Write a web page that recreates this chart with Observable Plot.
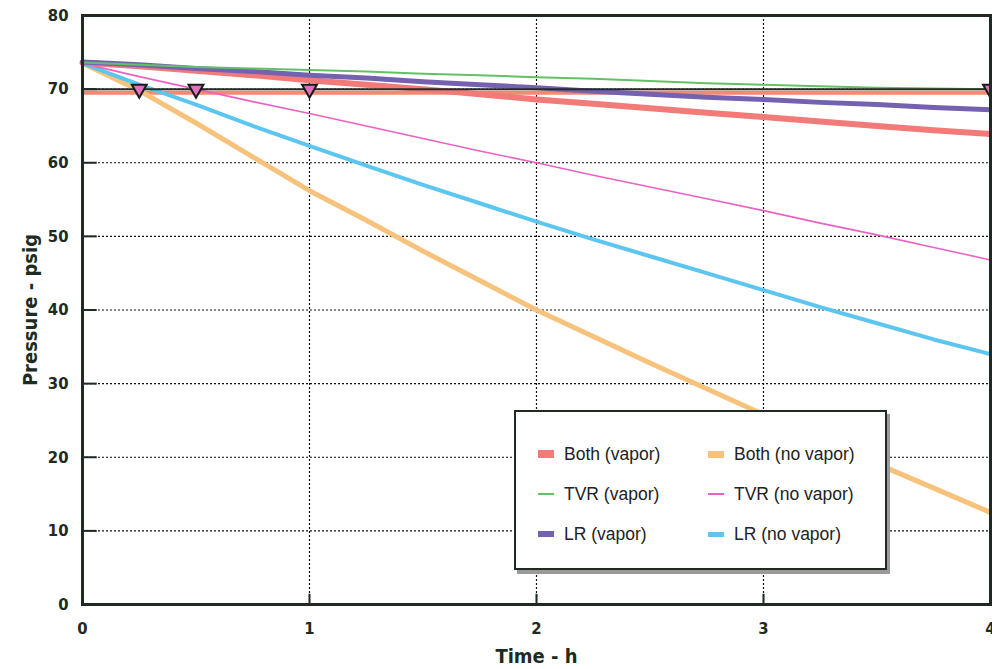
<!DOCTYPE html>
<html><head><meta charset="utf-8">
<script src="https://cdn.jsdelivr.net/npm/d3@7"></script>
<script src="https://cdn.jsdelivr.net/npm/@observablehq/plot@0.6"></script>
<style>
body{margin:0;background:#fff;}
#wrap{position:relative;width:992px;height:669px;overflow:hidden;}
#legend{position:absolute;left:514px;top:410px;width:369px;height:156px;border:2px solid #1e2a22;background:#fff;box-shadow:3px 4px 0 #9a9a9a;font-family:"Liberation Sans",Arial,sans-serif;font-size:17.5px;color:#222;}
.item{position:absolute;display:flex;align-items:center;}
.sw{width:16px;margin-right:10px;}
</style></head>
<body><div id="wrap"></div>
<script>
const time = [0,0.25,0.5,0.75,1,1.25,1.5,1.75,2,2.25,2.5,2.75,3,3.25,3.5,3.75,4];
const bothVapor   = [73.6,73.1,72.5,71.9,71.2,70.6,70.0,69.3,68.6,68.0,67.4,66.8,66.2,65.6,65.0,64.4,63.9];
const tvrVapor    = [73.6,73.3,73.0,72.8,72.6,72.4,72.1,71.9,71.6,71.4,71.1,70.8,70.6,70.4,70.2,70.1,70.0];
const lrVapor     = [73.7,73.3,72.8,72.4,71.9,71.5,71.0,70.6,70.2,69.7,69.3,68.9,68.6,68.2,67.9,67.5,67.2];
const bothNoVapor = [73.5,69.8,65.4,60.8,56.2,52.2,48.0,44.0,40.0,36.4,32.8,29.3,25.8,22.5,19.1,15.8,12.5];
const tvrNoVapor  = [73.5,71.7,70.0,68.3,66.7,65.0,63.3,61.6,60.0,58.3,56.7,55.1,53.5,51.8,50.2,48.5,46.8];
const lrNoVapor   = [73.5,70.6,67.9,65.0,62.3,59.6,57.0,54.5,52.0,49.6,47.3,45.0,42.7,40.4,38.2,36.0,34.0];
const seriesNames = ["Both (vapor)","TVR (vapor)","LR (vapor)","Both (no vapor)","TVR (no vapor)","LR (no vapor)"];
const seriesValues = [bothVapor,tvrVapor,lrVapor,bothNoVapor,tvrNoVapor,lrNoVapor];
const seriesColors = ["#f27a78","#64c064","#7462b0","#f6c27c","#ec62c4","#5cc6f0"];
const seriesWidths = [6,2,5,5,1.6,4];
const limit = 70;
const markerTimes = [0.25,0.5,1,4];
const xTicks = [0,1,2,3,4];
const yTicks = [0,10,20,30,40,50,60,70,80];
const gridY = [10,20,30,40,50,60,70];
const gridX = [1,2,3];

const data = [];
seriesNames.forEach((s,i)=>time.forEach((t,j)=>data.push({series:s,t,p:seriesValues[i][j]})));
const drawOrder = ["Both (no vapor)","LR (no vapor)","TVR (no vapor)","Both (vapor)","LR (vapor)","TVR (vapor)"];

const font = '"Liberation Sans Narrow","DejaVu Sans Condensed","Liberation Sans",sans-serif';
const marks = [
  Plot.ruleY(gridY,{stroke:"#111",strokeWidth:1.2,strokeDasharray:"2,2"}),
  Plot.ruleX(gridX,{stroke:"#111",strokeWidth:1.2,strokeDasharray:"2,2"}),
  Plot.ruleY([69.5],{stroke:"#f08a70",strokeWidth:4}),
];
drawOrder.forEach(s=>{
  const i = seriesNames.indexOf(s);
  marks.push(Plot.line(data.filter(d=>d.series===s),{x:"t",y:"p",stroke:seriesColors[i],strokeWidth:seriesWidths[i],curve:"linear"}));
});
marks.push(
  Plot.ruleY([limit],{stroke:"#2a2a2a",strokeWidth:2}),
  Plot.dot(markerTimes,{x:d=>d,y:limit,symbol:"triangle",rotate:180,r:5.5,fill:"#e070c0",stroke:"#1a1a1a",strokeWidth:2}),
  Plot.ruleY(gridY,{x1:0,x2:0.065,stroke:"#1e2a22",strokeWidth:2}),
  Plot.ruleX(gridX,{y1:0,y2:1.4,stroke:"#1e2a22",strokeWidth:2}),
  Plot.frame({stroke:"#1e2a22",strokeWidth:3}),
  Plot.axisY(yTicks,{tickSize:0,tickPadding:14,fontWeight:"bold",label:"Pressure - psig",labelAnchor:"center",labelOffset:60,labelArrow:"none"}),
  Plot.axisX(xTicks,{tickSize:0,tickPadding:18,fontWeight:"bold",label:"Time - h",labelAnchor:"center",labelOffset:58,labelArrow:"none",tickFormat:d=>String(d)})
);

const chart = Plot.plot({
  width:992,height:669,
  marginLeft:82,marginRight:2,marginTop:15,marginBottom:65,
  x:{domain:[0,4]},
  y:{domain:[0,80]},
  style:{fontFamily:font,fontSize:"16px",color:"#1e2a22",background:"#fff",overflow:"visible"},
  marks
});
d3.select(chart).selectAll("text").style("font-size","16.5px").style("font-weight","bold");
d3.select(chart).selectAll("[aria-label='y-axis label'] text, [aria-label='x-axis label'] text").style("font-size","20px").style("font-weight","bold");
document.getElementById("wrap").appendChild(chart);

// legend
const legend = document.createElement("div");
legend.id="legend";
const pos = [[22,42],[22,82],[22,122],[192,42],[192,82],[192,122]];
const swH = [8,2,6,7,2,5];
seriesNames.forEach((s,i)=>{
  const it=document.createElement("div");it.className="item";
  it.style.left=pos[i][0]+"px";it.style.top=(pos[i][1]-10)+"px";it.style.height="20px";
  const sw=document.createElement("div");sw.className="sw";sw.style.height=swH[i]+"px";sw.style.background=seriesColors[i];
  const tx=document.createElement("span");tx.textContent=s;
  it.appendChild(sw);it.appendChild(tx);legend.appendChild(it);
});
document.getElementById("wrap").appendChild(legend);
</script></body></html>
